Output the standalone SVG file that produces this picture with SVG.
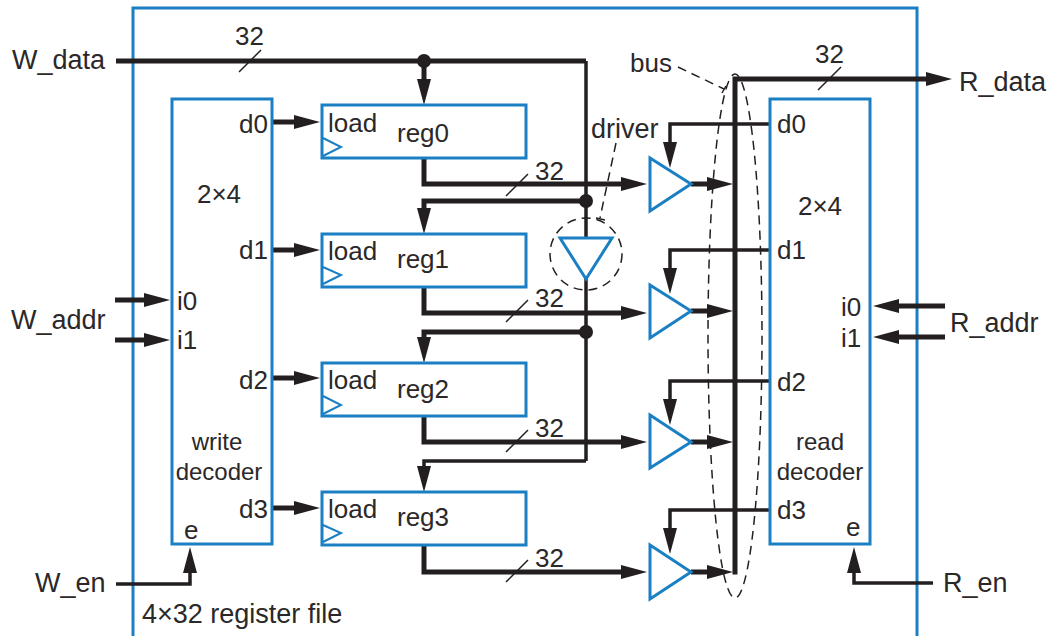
<svg xmlns="http://www.w3.org/2000/svg" width="1049" height="636" viewBox="0 0 1049 636">
<style>
text{font-family:"Liberation Sans",Arial,sans-serif;font-size:26px;fill:#2b2829}
.l{font-size:27px}
.s{font-size:24px}
.b{fill:#fff;stroke:#1a7fc3;stroke-width:3}
.o{fill:none;stroke:#1a7fc3;stroke-width:3}
.c{fill:none;stroke:#1a7fc3;stroke-width:2}
.w{fill:none;stroke:#231f20;stroke-width:5}
.m{fill:none;stroke:#231f20;stroke-width:3.5}
.t{fill:none;stroke:#231f20;stroke-width:1.5}
.d{fill:none;stroke:#231f20;stroke-width:1.5;stroke-dasharray:9 6}
.h{fill:#231f20}
.mid{text-anchor:middle}
</style>
<defs>
<path id="ar" class="h" d="M0 0L-26 -7L-26 7Z"/>
</defs>
<rect id="frame" x="133" y="8" width="784" height="640" class="o"/>
<g id="connectors">
<path class="w" d="M116 61H586"/>
<path class="m" d="M586 61V461"/>
<path class="w" d="M424 61V85"/>
<path class="w" d="M424 158V184H625"/>
<path class="w" d="M586 201H424V212"/>
<path class="w" d="M424 287V313H625"/>
<path class="w" d="M586 332H424V342"/>
<path class="w" d="M424 416V442H625"/>
<path class="m" d="M586 461H424V470"/>
<path class="w" d="M424 545V572H625"/>
<path class="w" d="M691 184H715M691 311H715M691 442H715M691 572H715"/>
<path class="w" d="M735 574.500V79H932"/>
<path class="m" d="M770 124H670V148M770 250H670V274M770 381H670V405M770 510H670V534"/>
<path class="w" d="M272 122H300M272 250H300M272 378H300"/>
<path class="w" d="M272 508H300"/>
<path class="w" d="M115 300H148M115 340H148"/>
<path class="w" d="M945 306H895M945 337H895"/>
<path class="m" d="M116 584H190V560"/>
<path class="m" d="M933 583H854V560"/>
<g>
<use href="#ar" transform="translate(424,105) rotate(90)"/>
<use href="#ar" transform="translate(424,234) rotate(90)"/>
<use href="#ar" transform="translate(424,363) rotate(90)"/>
<use href="#ar" transform="translate(424,492) rotate(90)"/>
<use href="#ar" transform="translate(647,184)"/>
<use href="#ar" transform="translate(647,313)"/>
<use href="#ar" transform="translate(647,442)"/>
<use href="#ar" transform="translate(647,572)"/>
<use href="#ar" transform="translate(733,184)"/>
<use href="#ar" transform="translate(733,311)"/>
<use href="#ar" transform="translate(733,442)"/>
<use href="#ar" transform="translate(733,572)"/>
<use href="#ar" transform="translate(952,79)"/>
<use href="#ar" transform="translate(670,168) rotate(90)"/>
<use href="#ar" transform="translate(670,294) rotate(90)"/>
<use href="#ar" transform="translate(670,425) rotate(90)"/>
<use href="#ar" transform="translate(670,554) rotate(90)"/>
<use href="#ar" transform="translate(320,122)"/>
<use href="#ar" transform="translate(320,250)"/>
<use href="#ar" transform="translate(320,378)"/>
<use href="#ar" transform="translate(320,508)"/>
<use href="#ar" transform="translate(170,300)"/>
<use href="#ar" transform="translate(170,340)"/>
<use href="#ar" transform="translate(873,306) rotate(180)"/>
<use href="#ar" transform="translate(873,337) rotate(180)"/>
<use href="#ar" transform="translate(190,547) rotate(-90)"/>
<use href="#ar" transform="translate(854,547) rotate(-90)"/>
</g>
<circle class="h" cx="424" cy="61" r="7"/>
<circle class="h" cx="586" cy="201" r="7"/>
<circle class="h" cx="586" cy="332" r="7"/>
<path class="t" d="M239 72L261 50M506 196L528 174M506 322L528 300M506 452L528 430M506 582L528 560M818 90L841 67"/>
<path class="d" d="M678 67L724 89M616 143L600 218"/>
<path class="t" d="M722 93L726 86M596 218L605 220"/>
<ellipse class="d" cx="735" cy="336" rx="27" ry="262"/>
<circle class="d" cx="586" cy="254" r="36"/>
</g>
<g id="write_decoder"><rect class="o" x="172" y="99" width="100" height="445"/>
<text x="239" y="133">d0</text><text x="239" y="259">d1</text><text x="239" y="389">d2</text><text x="239" y="518">d3</text>
<text x="177" y="310">i0</text><text x="177" y="349">i1</text><text x="184" y="539">e</text>
<text class="mid" x="219" y="203">2×4</text>
<text class="mid s" x="217" y="450">write</text><text class="mid s" x="219" y="480">decoder</text></g>
<g id="read_decoder"><rect class="o" x="770" y="99" width="100" height="445"/>
<text x="777" y="133">d0</text><text x="777" y="259">d1</text><text x="777" y="391">d2</text><text x="777" y="519">d3</text>
<text x="841" y="316">i0</text><text x="841" y="347">i1</text><text x="846" y="536">e</text>
<text class="mid" x="820" y="215">2×4</text>
<text class="mid s" x="820" y="450">read</text><text class="mid s" x="820" y="480">decoder</text></g>
<g id="reg0"><rect class="o" x="322" y="105" width="204" height="53"/><path class="c" d="M323 138L341 147L323 156"/><text x="328" y="132">load</text><text x="397" y="142">reg0</text></g>
<g id="reg1"><rect class="o" x="322" y="234" width="204" height="53"/><path class="c" d="M323 267L341 275L323 284"/><text x="328" y="260">load</text><text x="397" y="268">reg1</text></g>
<g id="reg2"><rect class="o" x="322" y="363" width="204" height="53"/><path class="c" d="M323 396L341 405L323 414"/><text x="328" y="389">load</text><text x="397" y="398">reg2</text></g>
<g id="reg3"><rect class="o" x="322" y="492" width="204" height="53"/><path class="c" d="M323 525L341 533L323 542"/><text x="328" y="518">load</text><text x="397" y="526">reg3</text></g>
<g id="tri0"><path class="o" d="M650 158L691 184L650 211Z"/></g>
<g id="tri1"><path class="o" d="M650 285L691 311L650 338Z"/></g>
<g id="tri2"><path class="o" d="M650 415L691 442L650 468Z"/></g>
<g id="tri3"><path class="o" d="M650 545L691 572L650 599Z"/></g>
<g id="driver_tri"><path class="b" d="M560 238H612L586 279Z"/></g>
<g id="labels">
<text class="l" x="12" y="69">W_data</text><text class="l" x="11" y="329">W_addr</text><text class="l" x="35" y="592">W_en</text>
<text class="l" x="959" y="91">R_data</text><text class="l" x="950" y="332">R_addr</text><text class="l" x="943" y="592">R_en</text>
<text x="235" y="45">32</text><text x="535" y="180">32</text><text x="535" y="307">32</text><text x="535" y="437">32</text><text x="535" y="567">32</text><text x="815" y="63">32</text>
<text x="630" y="72">bus</text><text class="l" x="591" y="138">driver</text>
<text class="l" x="142" y="623">4×32 register file</text>
</g>
</svg>
